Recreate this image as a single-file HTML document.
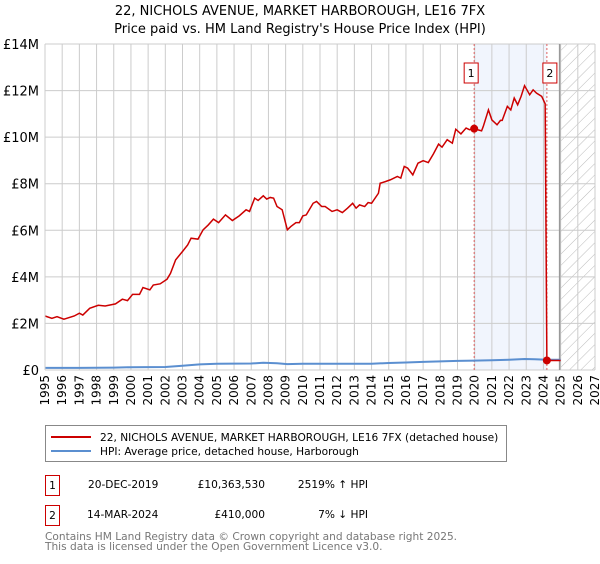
<!DOCTYPE html>
<html><head><meta charset="utf-8"><style>
body{margin:0;background:#fff;font-family:"DejaVu Sans","Liberation Sans",sans-serif;}
svg text{font-family:"DejaVu Sans","Liberation Sans",sans-serif;}
</style></head><body>
<svg id="c" width="600" height="560" xmlns="http://www.w3.org/2000/svg">
<defs><pattern id="hatch" width="8" height="8" patternUnits="userSpaceOnUse" patternTransform="rotate(45)"><line x1="0" y1="0" x2="0" y2="8" stroke="#bbb" stroke-width="1"/></pattern></defs>
<text x="300" y="15" text-anchor="middle" font-size="13">22, NICHOLS AVENUE, MARKET HARBOROUGH, LE16 7FX</text>
<text x="300" y="33" text-anchor="middle" font-size="13">Price paid vs. HM Land Registry's House Price Index (HPI)</text>
<g id="plot"></g>
<g>
<rect x="45.5" y="425.5" width="461" height="36" fill="#fff" stroke="#888"/>
<line x1="51" y1="437" x2="91" y2="437" stroke="#cc0000" stroke-width="2"/>
<text x="100" y="441" font-size="10.6">22, NICHOLS AVENUE, MARKET HARBOROUGH, LE16 7FX (detached house)</text>
<line x1="51" y1="451" x2="91" y2="451" stroke="#5b8fd0" stroke-width="2"/>
<text x="100" y="455" font-size="10.6">HPI: Average price, detached house, Harborough</text>
</g>
<g font-size="10.6">
<rect x="45.5" y="475.5" width="14" height="20" fill="#fff" stroke="#cc0000"/>
<text x="52.5" y="489" text-anchor="middle">1</text>
<text x="88" y="488">20-DEC-2019</text>
<text x="265" y="488" text-anchor="end">£10,363,530</text>
<text x="368" y="488" text-anchor="end">2519% ↑ HPI</text>
<rect x="45.5" y="505.5" width="14" height="20" fill="#fff" stroke="#cc0000"/>
<text x="52.5" y="519" text-anchor="middle">2</text>
<text x="87" y="518">14-MAR-2024</text>
<text x="265" y="518" text-anchor="end">£410,000</text>
<text x="368" y="518" text-anchor="end">7% ↓ HPI</text>
</g>
<text x="45" y="540" font-size="10.6" fill="#777">Contains HM Land Registry data © Crown copyright and database right 2025.</text>
<text x="45" y="550" font-size="10.6" fill="#777">This data is licensed under the Open Government Licence v3.0.</text>
</svg>
<script>
const redYears=[1995.0,1995.4,1995.7,1996.1,1996.7,1997.0,1997.2,1997.6,1998.1,1998.5,1999.1,1999.5,1999.8,2000.1,2000.5,2000.7,2001.1,2001.3,2001.7,2002.1,2002.3,2002.6,2003.0,2003.3,2003.5,2003.9,2004.2,2004.5,2004.8,2005.1,2005.5,2005.9,2006.3,2006.7,2006.9,2007.2,2007.4,2007.7,2007.9,2008.1,2008.3,2008.5,2008.8,2009.1,2009.3,2009.6,2009.8,2010.0,2010.2,2010.6,2010.8,2011.1,2011.3,2011.7,2012.0,2012.3,2012.6,2012.9,2013.1,2013.3,2013.6,2013.8,2014.0,2014.4,2014.5,2014.8,2015.1,2015.5,2015.7,2015.9,2016.1,2016.4,2016.7,2017.0,2017.3,2017.6,2017.9,2018.1,2018.4,2018.7,2018.9,2019.2,2019.5,2019.7,2019.97,2020.4,2020.5,2020.8,2021.0,2021.3,2021.5,2021.6,2021.9,2022.1,2022.3,2022.5,2022.7,2022.9,2023.2,2023.4,2023.6,2023.9,2024.1,2024.2,2025.0];
const redValues=[2.32,2.22,2.29,2.18,2.32,2.44,2.36,2.65,2.78,2.75,2.84,3.04,2.98,3.25,3.25,3.54,3.44,3.65,3.70,3.90,4.15,4.73,5.09,5.37,5.66,5.62,6.02,6.23,6.48,6.33,6.66,6.42,6.62,6.88,6.81,7.38,7.28,7.48,7.34,7.41,7.38,7.02,6.88,6.02,6.16,6.33,6.33,6.62,6.66,7.16,7.24,7.02,7.02,6.81,6.88,6.76,6.95,7.16,6.95,7.09,7.02,7.19,7.16,7.59,8.02,8.09,8.17,8.31,8.24,8.74,8.67,8.38,8.88,8.99,8.91,9.28,9.70,9.57,9.89,9.74,10.34,10.14,10.39,10.32,10.36,10.27,10.46,11.17,10.74,10.53,10.72,10.72,11.32,11.17,11.68,11.39,11.75,12.21,11.82,12.03,11.89,11.75,11.43,0.41,0.41];
const hpiYears=[1995,1997,1999,2000,2002,2003,2004,2005,2007,2007.7,2008.5,2009.1,2010,2012,2014,2015,2016,2017,2018,2019,2019.97,2021,2022,2022.9,2023.5,2024.2,2025];
const hpiValues=[0.09,0.09,0.10,0.12,0.13,0.18,0.24,0.27,0.28,0.31,0.29,0.25,0.27,0.27,0.27,0.30,0.32,0.35,0.37,0.39,0.40,0.42,0.44,0.47,0.46,0.44,0.44];
const sales=[[2019.97,10.36353],[2024.2,0.41]];
const yTicks=[0,2,4,6,8,10,12,14];
const yTickLabels=["£0","£2M","£4M","£6M","£8M","£10M","£12M","£14M"];
const L=45,R=595,T=44,B=370,X0=1995,X1=2027,YMAX=14;
const sx=y=>L+(y-X0)/(X1-X0)*(R-L);
const sy=v=>B-v/YMAX*(B-T);
const ns="http://www.w3.org/2000/svg";
const g=document.getElementById('plot');
function mk(t,a,p){const e=document.createElementNS(ns,t);for(const k in a)e.setAttribute(k,a[k]);(p||g).appendChild(e);return e;}
let e;
e=mk('rect',{x:sx(2019.97),y:T,width:sx(2024.2)-sx(2019.97),height:B-T,fill:'#eef3fc',opacity:0.8});


e=mk('rect',{x:sx(2025),y:T,width:R-sx(2025),height:B-T,fill:'url(#hatch)'});


for(let yr=X0;yr<=X1;yr++){
 e=mk('line',{x1:sx(yr),x2:sx(yr),y1:T,y2:B,stroke:'#ccc','stroke-width':1});
 
 
 e=mk('text',{transform:`translate(${sx(yr)+4},375) rotate(-90)`,'text-anchor':'end','font-size':12});
 e.textContent=yr;
 
 
}
yTicks.forEach((v,i)=>{
 e=mk('line',{x1:L,x2:R,y1:sy(v),y2:sy(v),stroke:'#ccc','stroke-width':1});
 
 
 e=mk('text',{x:39,y:sy(v)+5,'text-anchor':'end','font-size':13});
 e.textContent=yTickLabels[i];
 
 
});
e=mk('line',{x1:sx(2025)-1,x2:sx(2025)-1,y1:T,y2:B,stroke:'#999','stroke-width':1.5});


sales.forEach((s,i)=>{
 e=mk('line',{x1:sx(s[0]),x2:sx(s[0]),y1:T,y2:B,stroke:'#e06060','stroke-width':1,'stroke-dasharray':'2,2'});
 
 
 e=mk('rect',{x:sx(s[0])-(i?4:10),y:63,width:14,height:20,fill:'#fff',stroke:'#cc0000'});
 
 
 e=mk('text',{x:sx(s[0])-(i?4:10)+7,y:77,'text-anchor':'middle','font-size':11});
 e.textContent=String(i+1);
 
 
});
e=mk('polyline',{points:hpiYears.map((y,i)=>sx(y)+','+sy(hpiValues[i])).join(' '),fill:'none',stroke:'#5b8fd0','stroke-width':2});


e=mk('polyline',{points:redYears.map((y,i)=>sx(y)+','+sy(redValues[i])).join(' '),fill:'none',stroke:'#cc0000','stroke-width':1.5});


sales.forEach(s=>{
 e=mk('circle',{cx:sx(s[0]),cy:sy(s[1]),r:4,fill:'#cc0000'});
 
 
});
e=mk('line',{x1:L,x2:L,y1:T,y2:B,stroke:'#ccc'});


</script>
</body></html>
